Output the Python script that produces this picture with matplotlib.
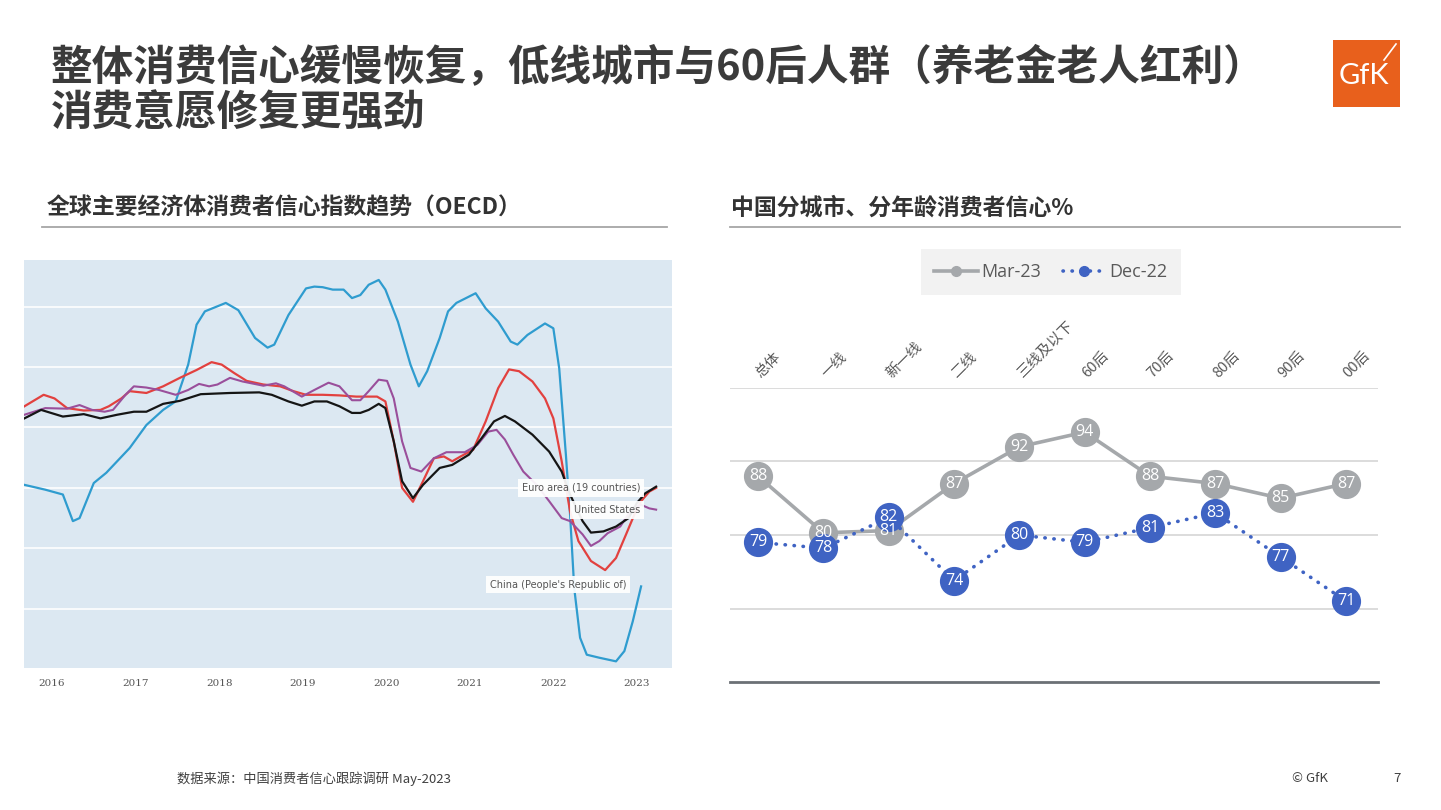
import matplotlib
matplotlib.use("Agg")
import matplotlib.pyplot as plt
from matplotlib.lines import Line2D
from matplotlib.patches import Rectangle

plt.rcParams['font.family'] = ['Noto Sans CJK SC', 'DejaVu Sans']

# ---------------- data: OECD consumer confidence ----------------
years = [2016, 2017, 2018, 2019, 2020, 2021, 2022, 2023]

china_t = [2015.67, 2015.92, 2016.13, 2016.25, 2016.33, 2016.50, 2016.65, 2016.93, 2017.13, 2017.33,
           2017.48, 2017.63, 2017.73, 2017.83, 2018.08, 2018.23, 2018.43, 2018.58, 2018.66, 2018.83,
           2019.04, 2019.14, 2019.24, 2019.36, 2019.49, 2019.59, 2019.69, 2019.79, 2019.91, 2019.99,
           2020.14, 2020.29, 2020.39, 2020.49, 2020.64, 2020.74, 2020.84, 2021.07, 2021.19, 2021.34,
           2021.49, 2021.57, 2021.69, 2021.90, 2022.00, 2022.07, 2022.15, 2022.20, 2022.25, 2022.32,
           2022.40, 2022.55, 2022.75, 2022.85, 2022.95, 2023.05]
china_v = [99.05, 98.97, 98.89, 98.45, 98.50, 99.08, 99.25, 99.66, 100.04, 100.29,
           100.43, 101.04, 101.70, 101.92, 102.06, 101.94, 101.48, 101.32, 101.37, 101.86,
           102.30, 102.33, 102.32, 102.28, 102.28, 102.14, 102.19, 102.36, 102.44, 102.28,
           101.75, 101.04, 100.68, 100.93, 101.48, 101.92, 102.06, 102.22, 101.97, 101.75,
           101.42, 101.37, 101.53, 101.72, 101.64, 100.98, 99.55, 98.56, 97.34, 96.52,
           96.24, 96.19, 96.13, 96.30, 96.79, 97.37]

euro_t = [2015.67, 2015.87, 2016.13, 2016.38, 2016.58, 2016.78, 2016.98, 2017.13, 2017.33, 2017.53,
          2017.78, 2018.13, 2018.48, 2018.63, 2018.83, 2018.99, 2019.14, 2019.29, 2019.44, 2019.59,
          2019.69, 2019.79, 2019.91, 2019.99, 2020.09, 2020.19, 2020.32, 2020.44, 2020.64, 2020.79,
          2020.99, 2021.14, 2021.29, 2021.42, 2021.54, 2021.75, 2021.95, 2022.10, 2022.20, 2022.35,
          2022.45, 2022.60, 2022.75, 2022.90, 2023.00, 2023.10, 2023.23]
euro_v = [100.15, 100.29, 100.18, 100.22, 100.15, 100.21, 100.26, 100.26, 100.39, 100.44,
          100.55, 100.57, 100.58, 100.54, 100.43, 100.36, 100.43, 100.43, 100.35, 100.24,
          100.24, 100.29, 100.39, 100.32, 99.77, 99.11, 98.83, 99.05, 99.33, 99.38,
          99.55, 99.82, 100.10, 100.19, 100.10, 99.88, 99.60, 99.27, 98.89, 98.45,
          98.26, 98.28, 98.36, 98.50, 98.75, 98.91, 99.02]

red_t = [2015.67, 2015.90, 2016.03, 2016.18, 2016.38, 2016.58, 2016.68, 2016.83, 2016.93, 2017.13,
         2017.33, 2017.53, 2017.73, 2017.91, 2018.03, 2018.18, 2018.33, 2018.53, 2018.73, 2018.89,
         2019.04, 2019.24, 2019.44, 2019.64, 2019.89, 2019.99, 2020.09, 2020.19, 2020.32, 2020.44,
         2020.57, 2020.69, 2020.79, 2020.89, 2021.04, 2021.19, 2021.34, 2021.47, 2021.59, 2021.75,
         2021.90, 2022.00, 2022.10, 2022.20, 2022.30, 2022.45, 2022.62, 2022.75, 2022.87, 2022.97,
         2023.05, 2023.15, 2023.23]
red_v = [100.35, 100.54, 100.48, 100.32, 100.28, 100.29, 100.35, 100.48, 100.60, 100.57,
         100.68, 100.82, 100.95, 101.08, 101.04, 100.90, 100.77, 100.71, 100.68, 100.60,
         100.54, 100.54, 100.53, 100.51, 100.51, 100.43, 99.77, 99.00, 98.77, 99.11,
         99.49, 99.52, 99.44, 99.52, 99.63, 100.10, 100.65, 100.96, 100.93, 100.76,
         100.48, 100.15, 99.44, 98.61, 98.12, 97.79, 97.64, 97.84, 98.23, 98.56,
         98.78, 98.94, 99.00]

us_t = [2015.67, 2015.92, 2016.18, 2016.33, 2016.48, 2016.63, 2016.73, 2016.88, 2016.98, 2017.13,
        2017.28, 2017.48, 2017.63, 2017.76, 2017.88, 2017.98, 2018.13, 2018.28, 2018.53, 2018.68,
        2018.78, 2018.99, 2019.14, 2019.31, 2019.44, 2019.59, 2019.69, 2019.79, 2019.91, 2020.01,
        2020.09, 2020.19, 2020.29, 2020.42, 2020.57, 2020.72, 2020.94, 2021.09, 2021.22, 2021.32,
        2021.42, 2021.52, 2021.64, 2021.80, 2021.95, 2022.10, 2022.20, 2022.35, 2022.45, 2022.55,
        2022.65, 2022.80, 2022.95, 2023.05, 2023.15, 2023.23]
us_v = [100.21, 100.32, 100.31, 100.37, 100.29, 100.26, 100.29, 100.54, 100.68, 100.66,
        100.62, 100.54, 100.62, 100.72, 100.68, 100.71, 100.82, 100.76, 100.69, 100.73,
        100.68, 100.51, 100.62, 100.74, 100.68, 100.45, 100.45, 100.60, 100.79, 100.77,
        100.48, 99.77, 99.33, 99.27, 99.49, 99.59, 99.59, 99.71, 99.93, 99.96,
        99.80, 99.55, 99.27, 99.05, 98.78, 98.50, 98.45, 98.23, 98.04, 98.12,
        98.25, 98.36, 98.67, 98.72, 98.66, 98.64]

# ---------------- data: China consumer confidence by city tier / age ----------------
categories = ['总体', '一线', '新一线', '二线', '三线及以下', '60后', '70后', '80后', '90后', '00后']
mar23 = [88, 80.3, 80.6, 87, 92, 94, 88, 87, 85, 87]
dec22 = [79, 78.2, 82.4, 73.8, 80, 79, 81, 83, 77, 71]

W, H = 1441, 810


def fx(px):
    return px / W


def fy(py):
    return 1 - py / H


fig = plt.figure(figsize=(W / 100, H / 100), dpi=100)
fig.patch.set_facecolor('white')

# title
title_color = '#3b3b3b'
fig.text(fx(51), fy(67), '整体消费信心缓慢恢复，低线城市与60后人群（养老金老人红利）',
         fontsize=30, fontweight='bold', color=title_color, va='center', ha='left')
fig.text(fx(51), fy(113), '消费意愿修复更强劲',
         fontsize=30, fontweight='bold', color=title_color, va='center', ha='left')

# logo
fig.patches.append(Rectangle((fx(1333), fy(107)), fx(67), 67 / H, transform=fig.transFigure,
                             facecolor='#e8601c', edgecolor='none'))
fig.text(fx(1364), fy(76), 'GfK', fontsize=21, color='white', ha='center', va='center',
         family=['Lato', 'DejaVu Sans'])
fig.lines.append(Line2D([fx(1384), fx(1396)], [fy(60), fy(44)], transform=fig.transFigure,
                        color='white', lw=1.2))

# section headers
fig.text(fx(47), fy(208), '全球主要经济体消费者信心指数趋势（OECD）', fontsize=16.5,
         fontweight='bold', color='#333333', va='center', ha='left')
fig.text(fx(731), fy(208), '中国分城市、分年龄消费者信心%', fontsize=16.5,
         fontweight='bold', color='#333333', va='center', ha='left')
fig.lines.append(Line2D([fx(42), fx(667)], [fy(227), fy(227)], transform=fig.transFigure,
                        color='#a6a6a6', lw=1.3))
fig.lines.append(Line2D([fx(730), fx(1400)], [fy(227), fy(227)], transform=fig.transFigure,
                        color='#a6a6a6', lw=1.3))

# ---------------- left chart ----------------
ax1 = fig.add_axes([fx(24), fy(668), fx(672) - fx(24), fy(260) - fy(668)])
ax1.set_facecolor('#dce8f2')
for s in ax1.spines.values():
    s.set_visible(False)
ax1.set_xlim(2015.665, 2023.42)
ax1.set_ylim(96.02, 102.77)
ax1.set_yticks([97, 98, 99, 100, 101, 102])
ax1.set_yticklabels([])
ax1.grid(axis='y', color='white', lw=1.3, alpha=0.9)
ax1.set_axisbelow(True)
ax1.set_xticks(years)
ax1.set_xticklabels([str(y) for y in years], fontsize=7.5, color='#555555',
                    family=['DejaVu Serif'])
ax1.tick_params(length=0, pad=8)

ax1.plot(china_t, china_v, color='#2f9ccf', lw=1.6, zorder=3)
ax1.plot(red_t, red_v, color='#e2413f', lw=1.6, zorder=4)
ax1.plot(us_t, us_v, color='#9a4f9b', lw=1.5, zorder=4)
ax1.plot(euro_t, euro_v, color='#151515', lw=1.6, zorder=5)

lab_style = dict(fontsize=7, color='#555555', ha='right', va='center', zorder=6,
                 family=['DejaVu Sans'],
                 bbox=dict(boxstyle='square,pad=0.4', facecolor='white', edgecolor='none', alpha=0.92))
ax1.text(2023.04, 99.0, 'Euro area (19 countries)', **lab_style)
ax1.text(2023.04, 98.64, 'United States', **lab_style)
ax1.text(2022.87, 97.40, "China (People's Republic of)", **lab_style)

# ---------------- right chart ----------------
ax2 = fig.add_axes([fx(730), fy(682), fx(1378) - fx(730), fy(388) - fy(682)])
ax2.set_facecolor('none')
x = list(range(len(categories)))
ax2.set_xlim(-0.43, 9.49)
ax2.set_ylim(60, 100)
ax2.set_yticks([70, 80, 90, 100])
ax2.set_yticklabels([])
ax2.grid(axis='y', color='#d9d9d9', lw=1.3)
ax2.set_axisbelow(True)
for k in ['top', 'left', 'right']:
    ax2.spines[k].set_visible(False)
ax2.spines['bottom'].set_color('#6b7075')
ax2.spines['bottom'].set_linewidth(2)
ax2.tick_params(axis='y', length=0)
ax2.xaxis.tick_top()
ax2.set_xticks(x)
ax2.set_xticklabels(categories, rotation=45, ha='left', va='center', rotation_mode='anchor',
                    fontsize=10.5, color='#595959')
ax2.tick_params(axis='x', length=0, pad=9)

gray = '#a5a8ab'
blue = '#3f63c3'
ax2.plot(x, mar23, color=gray, lw=2.6, marker='o', markersize=20, markerfacecolor=gray,
         markeredgecolor=gray, zorder=3, solid_capstyle='round')
ax2.plot(x, dec22, color=blue, lw=2.6, linestyle=(0, (0.1, 2.4)), dash_capstyle='round',
         marker='o', markersize=20, markerfacecolor=blue, markeredgecolor=blue, zorder=4)
for xi, v in zip(x, mar23):
    ax2.text(xi, v, f'{round(v)}', color='white', fontsize=11.5, ha='center', va='center',
             zorder=5, family=['Open Sans', 'DejaVu Sans'])
for xi, v in zip(x, dec22):
    ax2.text(xi, v, f'{round(v)}', color='white', fontsize=11.5, ha='center', va='center',
             zorder=6, family=['Open Sans', 'DejaVu Sans'])

handles = [Line2D([], [], color=gray, lw=2.6, marker='o', markersize=7),
           Line2D([], [], color=blue, lw=2.6, linestyle=(0, (0.1, 2.4)), dash_capstyle='round',
                  marker='o', markersize=7)]
leg = ax2.legend(handles, ['Mar-23', 'Dec-22'], loc='center', bbox_to_anchor=(fx(1051), fy(272)),
                 bbox_transform=fig.transFigure, ncol=2, frameon=True, fancybox=False,
                 facecolor='#f2f2f2', edgecolor='none', framealpha=1, handlelength=2.4,
                 handletextpad=0.2, columnspacing=1.2, borderpad=0.45, borderaxespad=0,
                 prop={'family': ['Open Sans', 'DejaVu Sans'], 'size': 13})
leg.get_frame().set_boxstyle('square', pad=0.3)
for t in leg.get_texts():
    t.set_color('#595959')

# footer
fig.text(fx(177), fy(779), '数据来源：中国消费者信心跟踪调研 May-2023', fontsize=9.5,
         color='#404040', va='center', ha='left')
fig.text(fx(1292), fy(779), '© GfK', fontsize=9.5, color='#404040', va='center', ha='left')
fig.text(fx(1397), fy(779), '7', fontsize=9.5, color='#404040', va='center', ha='center')

fig.savefig('out.png', dpi=100)
